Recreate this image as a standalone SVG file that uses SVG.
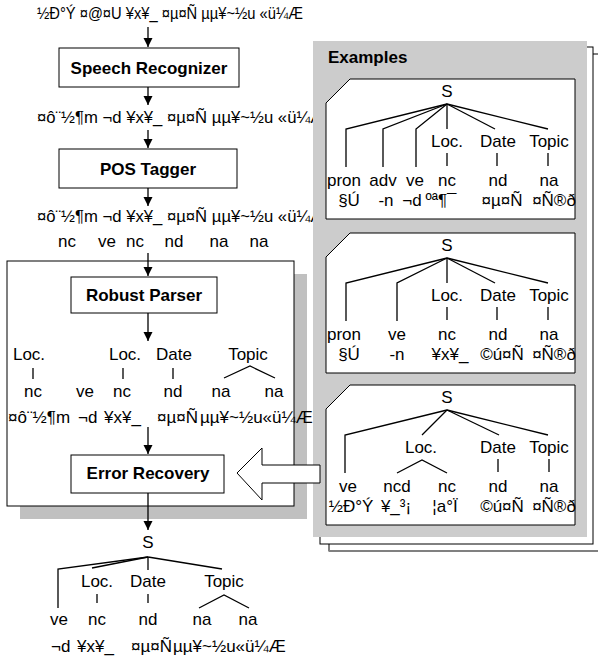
<svg xmlns="http://www.w3.org/2000/svg" width="598" height="659" viewBox="0 0 598 659">
<defs>
<marker id="ah" viewBox="0 0 10 10" refX="10" refY="5" markerWidth="9" markerHeight="10" markerUnits="userSpaceOnUse" orient="auto"><path d="M0,0 L10,5 L0,10 z" fill="#000"/></marker>
<style>
.t{font-family:"Liberation Sans",Arial,Helvetica,sans-serif;font-size:17px;fill:#000;text-anchor:middle}
.s{text-anchor:start}
.m{font-size:16px}
.b{font-weight:bold}
.box{fill:#fff;stroke:#000;stroke-width:1}
.ln{stroke:#000;stroke-width:1.3;fill:none}
.ar{stroke:#000;stroke-width:1.3;fill:none;marker-end:url(#ah)}
.fr{fill:#fff;stroke:#000;stroke-width:1}
</style>
</defs>
<rect width="598" height="659" fill="#fff"/>

<g id="input-line">
<text class="t s m" x="37" y="19" textLength="266" lengthAdjust="spacingAndGlyphs">½Ð°Ý ¤@¤U ¥x¥_ ¤µ¤Ñ µµ¥~½u «ü¼Æ</text>
</g>
<g id="speech-recognizer">
<rect class="box" x="59" y="48" width="180" height="39"/>
<text class="t b" x="149" y="74">Speech Recognizer</text>
</g>
<g id="recognized-line">
<text class="t s m" x="37" y="123" textLength="290" lengthAdjust="spacingAndGlyphs">¤ô¨½¶m ¬d ¥x¥_ ¤µ¤Ñ µµ¥~½u «ü¼Æ</text>
</g>
<g id="pos-tagger">
<rect class="box" x="59" y="149" width="178" height="39"/>
<text class="t b" x="148" y="175">POS Tagger</text>
</g>
<g id="tagged-line">
<text class="t s m" x="37" y="222" textLength="290" lengthAdjust="spacingAndGlyphs">¤ô¨½¶m ¬d ¥x¥_ ¤µ¤Ñ µµ¥~½u «ü¼Æ</text>
<text class="t" x="67" y="247">nc</text>
<text class="t" x="107" y="247">ve</text>
<text class="t" x="135" y="247">nc</text>
<text class="t" x="174" y="247">nd</text>
<text class="t" x="219" y="247">na</text>
<text class="t" x="259" y="247">na</text>
</g>

<g id="parser-frame">
<rect x="20" y="274" width="287" height="245" fill="#c0c0c0"/>
<rect class="box" x="7" y="261" width="287" height="245"/>
</g>

<g id="examples-panel">
<rect x="329" y="54" width="280" height="497" fill="#fff" stroke="#000" stroke-width="1"/>
<line x1="329" y1="551" x2="598" y2="551" stroke="#808080" stroke-width="2"/>
<rect x="320" y="47" width="273" height="497" fill="#fff" stroke="#000" stroke-width="1"/>
<rect x="313" y="41" width="274" height="496" fill="#cccccc"/>
<text class="t s b" x="328" y="63">Examples</text>
</g>

<g id="robust-parser">
<rect class="box" x="71" y="277" width="146" height="36"/>
<text class="t b" x="144" y="301">Robust Parser</text>
</g>
<g id="parse-fragments">
<text class="t" x="29" y="360">Loc.</text>
<text class="t" x="125" y="360">Loc.</text>
<text class="t" x="174" y="360">Date</text>
<text class="t" x="248" y="360">Topic</text>
<text class="t" x="33" y="397">nc</text>
<text class="t" x="85" y="397">ve</text>
<text class="t" x="122" y="397">nc</text>
<text class="t" x="173" y="397">nd</text>
<text class="t" x="221" y="397">na</text>
<text class="t" x="274" y="397">na</text>
<text class="t s" x="8" y="423">¤ô¨½¶m</text>
<text class="t s" x="78" y="423">¬d</text>
<text class="t s" x="104" y="423">¥x¥_</text>
<text class="t s" x="157" y="423">¤µ¤Ñ</text>
<text class="t s" x="200" y="423">µµ¥~½u«ü¼Æ</text>
</g>
<g id="error-recovery">
<rect class="box" x="71" y="455" width="153" height="38"/>
<text class="t b" x="148" y="479">Error Recovery</text>
</g>

<g id="example-1">
<path class="fr" d="M350,79 L575,79 L575,219 L326,219 L326,103 Z"/>
<text class="t" x="447" y="97">S</text>
<text class="t" x="447" y="147">Loc.</text>
<text class="t" x="498" y="147">Date</text>
<text class="t" x="549" y="147">Topic</text>
<text class="t" x="344" y="186">pron</text>
<text class="t" x="383" y="186">adv</text>
<text class="t" x="415" y="186">ve</text>
<text class="t" x="447" y="186">nc</text>
<text class="t" x="498" y="186">nd</text>
<text class="t" x="549" y="186">na</text>
<text class="t" x="349" y="206">§Ú</text>
<text class="t" x="386" y="206">-n</text>
<text class="t" x="412" y="206">¬d</text>
<text class="t" x="441" y="206">ºª¶¯</text>
<text class="t" x="502" y="206">¤µ¤Ñ</text>
<text class="t" x="554" y="206">¤Ñ®ð</text>
</g>
<g id="example-2">
<path class="fr" d="M350,233 L575,233 L575,373 L326,373 L326,257 Z"/>
<text class="t" x="447" y="251">S</text>
<text class="t" x="447" y="301">Loc.</text>
<text class="t" x="498" y="301">Date</text>
<text class="t" x="549" y="301">Topic</text>
<text class="t" x="344" y="340">pron</text>
<text class="t" x="397" y="340">ve</text>
<text class="t" x="447" y="340">nc</text>
<text class="t" x="498" y="340">nd</text>
<text class="t" x="549" y="340">na</text>
<text class="t" x="349" y="360">§Ú</text>
<text class="t" x="397" y="360">-n</text>
<text class="t" x="450" y="360">¥x¥_</text>
<text class="t" x="502" y="360">©ú¤Ñ</text>
<text class="t" x="554" y="360">¤Ñ®ð</text>
</g>
<g id="example-3">
<path class="fr" d="M350,385 L575,385 L575,525 L326,525 L326,409 Z"/>
<text class="t" x="447" y="403">S</text>
<text class="t" x="421" y="453">Loc.</text>
<text class="t" x="498" y="453">Date</text>
<text class="t" x="549" y="453">Topic</text>
<text class="t" x="348" y="492">ve</text>
<text class="t" x="397" y="492">ncd</text>
<text class="t" x="447" y="492">nc</text>
<text class="t" x="498" y="492">nd</text>
<text class="t" x="549" y="492">na</text>
<text class="t" x="351" y="512">½Ð°Ý</text>
<text class="t" x="396" y="512">¥_³¡</text>
<text class="t" x="445" y="512">¦a°Ï</text>
<text class="t" x="502" y="512">©ú¤Ñ</text>
<text class="t" x="554" y="512">¤Ñ®ð</text>
</g>

<g id="feedback-arrow">
<path d="M237,473 L262,448 L262,465 L320,465 L320,483 L262,483 L262,500 Z" fill="#fff" stroke="#000" stroke-width="1"/>
</g>

<g id="final-parse">
<text class="t" x="148" y="548">S</text>
<text class="t" x="97" y="587">Loc.</text>
<text class="t" x="148" y="587">Date</text>
<text class="t" x="224" y="587">Topic</text>
<text class="t" x="59" y="625">ve</text>
<text class="t" x="97" y="625">nc</text>
<text class="t" x="148" y="625">nd</text>
<text class="t" x="202" y="625">na</text>
<text class="t" x="248" y="625">na</text>
<text class="t s" x="51" y="652">¬d</text>
<text class="t s" x="77" y="652">¥x¥_</text>
<text class="t s" x="131" y="652">¤µ¤Ñ</text>
<text class="t s" x="173" y="652">µµ¥~½u«ü¼Æ</text>
</g>

<g id="connectors">
<line class="ar" x1="148" y1="27" x2="148" y2="47"/>
<line class="ar" x1="148" y1="87" x2="148" y2="105"/>
<line class="ar" x1="148" y1="130" x2="148" y2="148"/>
<line class="ar" x1="148" y1="188" x2="148" y2="206"/>
<line class="ar" x1="148" y1="253" x2="148" y2="276"/>
<line class="ar" x1="148" y1="313" x2="148" y2="341"/>
<line class="ar" x1="148" y1="427" x2="148" y2="454"/>
<line class="ar" x1="148" y1="493" x2="148" y2="530"/>
<line class="ln" x1="33" y1="368" x2="33" y2="379"/>
<line class="ln" x1="123" y1="368" x2="123" y2="379"/>
<line class="ln" x1="173" y1="368" x2="173" y2="379"/>
<path class="ln" d="M224,378 L250,366 L275,378"/>
<path class="ln" d="M447,104 L346,129 L346,167"/>
<path class="ln" d="M447,104 L383,129 L383,167"/>
<path class="ln" d="M447,104 L416,129 L416,167"/>
<line class="ln" x1="447" y1="104" x2="447" y2="129"/>
<line class="ln" x1="447" y1="104" x2="495" y2="129"/>
<line class="ln" x1="447" y1="104" x2="548" y2="129"/>
<line class="ln" x1="447" y1="153" x2="447" y2="166"/>
<line class="ln" x1="497" y1="153" x2="497" y2="166"/>
<line class="ln" x1="548" y1="153" x2="548" y2="166"/>
<path class="ln" d="M447,258 L346,283 L346,321"/>
<path class="ln" d="M447,258 L397,283 L397,321"/>
<line class="ln" x1="447" y1="258" x2="447" y2="283"/>
<line class="ln" x1="447" y1="258" x2="495" y2="283"/>
<line class="ln" x1="447" y1="258" x2="548" y2="283"/>
<line class="ln" x1="447" y1="307" x2="447" y2="320"/>
<line class="ln" x1="497" y1="307" x2="497" y2="320"/>
<line class="ln" x1="548" y1="307" x2="548" y2="320"/>
<path class="ln" d="M447,410 L345,435 L345,473"/>
<line class="ln" x1="447" y1="410" x2="422" y2="435"/>
<line class="ln" x1="447" y1="410" x2="499" y2="435"/>
<line class="ln" x1="447" y1="410" x2="548" y2="435"/>
<path class="ln" d="M397,473 L422,460 L447,473"/>
<line class="ln" x1="498" y1="459" x2="498" y2="472"/>
<line class="ln" x1="549" y1="459" x2="549" y2="472"/>
<path class="ln" d="M148,557 L58,569 L58,608"/>
<line class="ln" x1="148" y1="557" x2="92" y2="568"/>
<line class="ln" x1="148" y1="557" x2="148" y2="570"/>
<line class="ln" x1="148" y1="557" x2="222" y2="569"/>
<line class="ln" x1="97" y1="594" x2="97" y2="603"/>
<line class="ln" x1="148" y1="594" x2="148" y2="603"/>
<path class="ln" d="M199,608 L224,595 L249,608"/>
</g>
</svg>
